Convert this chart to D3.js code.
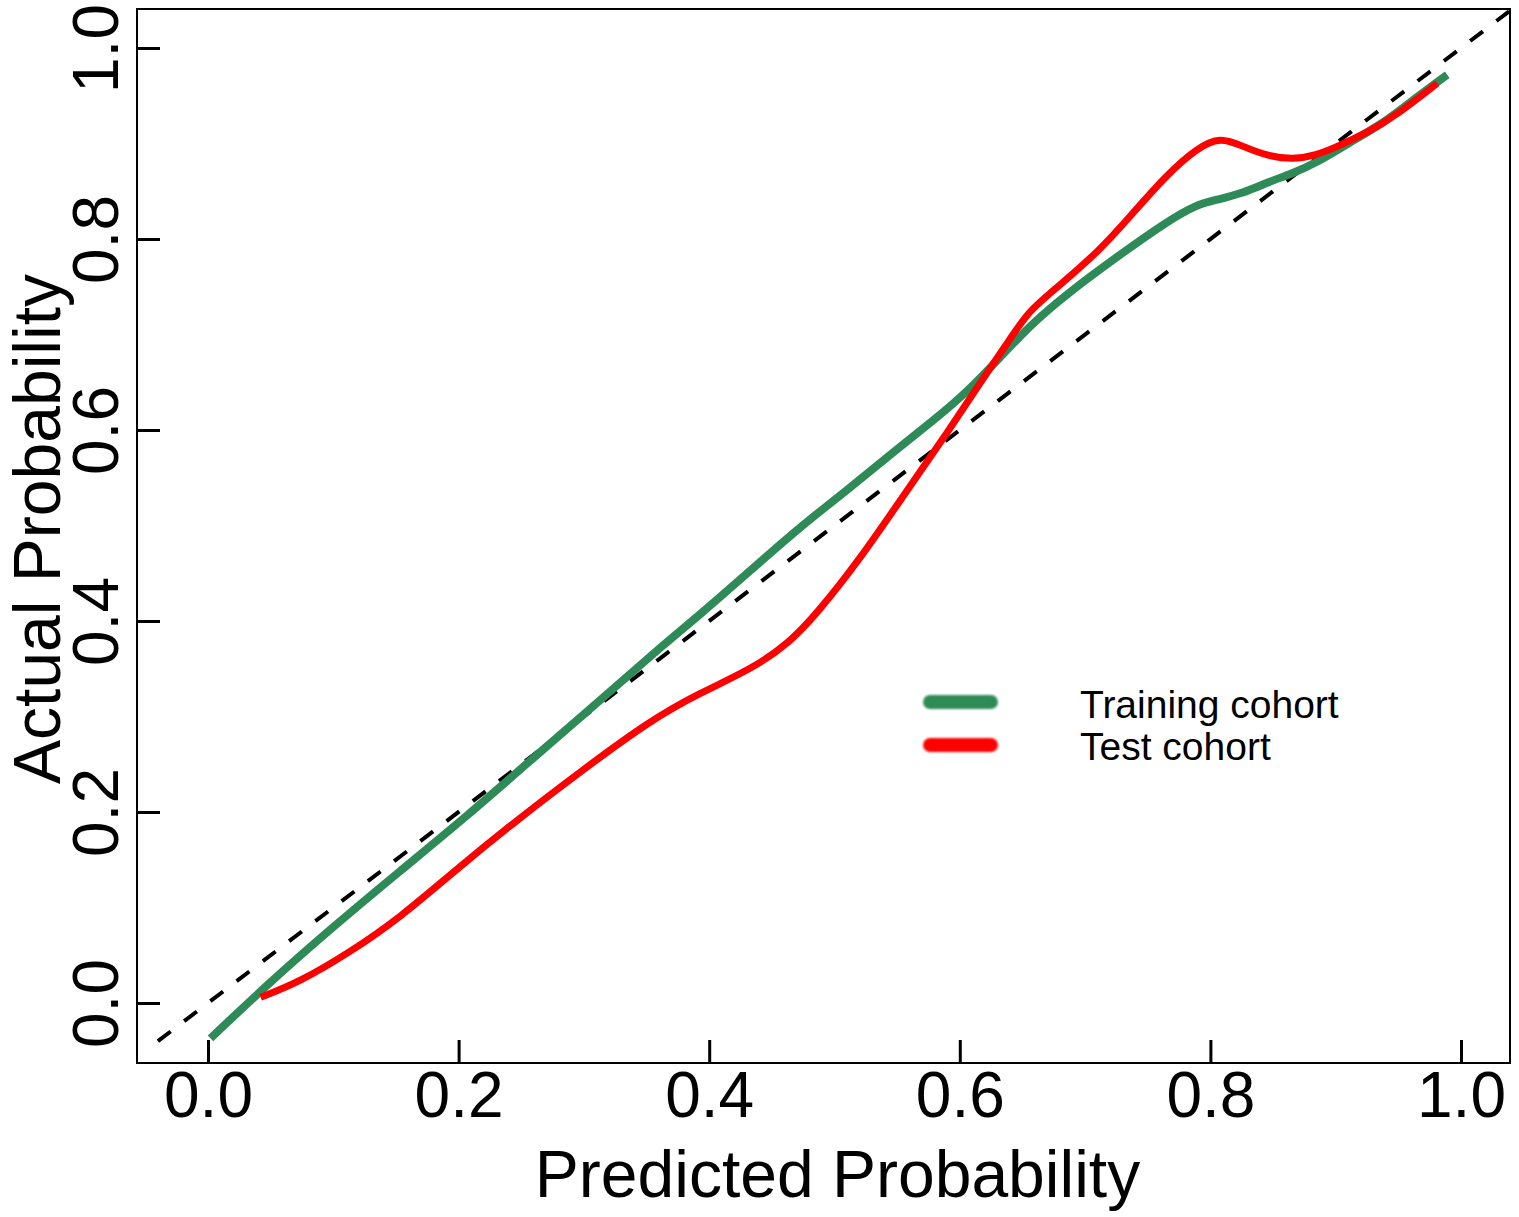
<!DOCTYPE html>
<html>
<head>
<meta charset="utf-8">
<script src="https://cdn.jsdelivr.net/npm/d3@7"></script>
<style>
  html, body { margin: 0; padding: 0; background: #fff; }
  svg { display: block; }
  text { font-family: "Liberation Sans", Arial, Helvetica, sans-serif; fill: #000; }
</style>
</head>
<body>
<svg id="chart" width="1519" height="1217"></svg>
<script>
// ---- data ----
const xTicks = [0.0, 0.2, 0.4, 0.6, 0.8, 1.0];
const yTicks = [0.0, 0.2, 0.4, 0.6, 0.8, 1.0];
const tickLabels = ["0.0", "0.2", "0.4", "0.6", "0.8", "1.0"];
const seriesNames = ["Training cohort", "Test cohort"];
const seriesColors = ["#2e8b57", "#ff0000"];
const diagonal = [[-0.04, -0.04], [1.04, 1.04]];

const trainingPred = [0.002, 0.047, 0.100, 0.153, 0.207, 0.259, 0.313, 0.366, 0.393, 0.433, 0.472, 0.510, 0.547, 0.579, 0.606, 0.632, 0.658, 0.686, 0.725, 0.765, 0.789, 0.805, 0.826, 0.845, 0.866, 0.885, 0.911, 0.938, 0.965, 0.989];
const trainingActual = [-0.037, 0.019, 0.080, 0.138, 0.196, 0.256, 0.317, 0.378, 0.407, 0.453, 0.498, 0.537, 0.577, 0.610, 0.640, 0.676, 0.712, 0.743, 0.781, 0.818, 0.836, 0.841, 0.848, 0.859, 0.869, 0.880, 0.901, 0.921, 0.949, 0.972];

const testPred = [0.042, 0.073, 0.113, 0.153, 0.201, 0.247, 0.299, 0.353, 0.393, 0.433, 0.464, 0.486, 0.520, 0.558, 0.590, 0.619, 0.638, 0.654, 0.672, 0.712, 0.738, 0.765, 0.789, 0.808, 0.826, 0.845, 0.866, 0.885, 0.898, 0.925, 0.951, 0.981];
const testActual = [0.006, 0.022, 0.053, 0.089, 0.143, 0.192, 0.244, 0.296, 0.325, 0.349, 0.377, 0.408, 0.464, 0.537, 0.597, 0.655, 0.691, 0.723, 0.743, 0.788, 0.827, 0.867, 0.895, 0.907, 0.897, 0.887, 0.883, 0.888, 0.895, 0.911, 0.932, 0.963];

// ---- layout ----
const svg = d3.select("#chart");
const box = { left: 137, top: 9, right: 1510, bottom: 1063 };
const x = d3.scaleLinear().domain([0, 1]).range([208, 1461]);
const y = d3.scaleLinear().domain([0, 1]).range([1003, 48]);

const defs = svg.append("defs");
defs.append("clipPath").attr("id", "plotclip")
  .append("rect")
  .attr("x", box.left).attr("y", box.top)
  .attr("width", box.right - box.left).attr("height", box.bottom - box.top);
defs.append("filter").attr("id", "soft")
  .attr("filterUnits", "userSpaceOnUse")
  .attr("x", 880).attr("y", 660).attr("width", 160).attr("height", 120)
  .append("feGaussianBlur").attr("stdDeviation", 1.2);

const plot = svg.append("g").attr("clip-path", "url(#plotclip)");

// diagonal reference line
plot.append("path")
  .datum(diagonal)
  .attr("d", d3.line().x(d => x(d[0])).y(d => y(d[1])))
  .attr("fill", "none")
  .attr("stroke", "#000")
  .attr("stroke-width", 4)
  .attr("stroke-dasharray", "16,17");

const line = d3.line()
  .x(d => x(d[0]))
  .y(d => y(d[1]))
  .curve(d3.curveBasis);

const training = trainingPred.map((p, i) => [p, trainingActual[i]]);
const test = testPred.map((p, i) => [p, testActual[i]]);

plot.append("path")
  .datum(training)
  .attr("d", line)
  .attr("fill", "none")
  .attr("stroke", seriesColors[0])
  .attr("stroke-width", 8)
  .attr("stroke-linejoin", "round");

plot.append("path")
  .datum(test)
  .attr("d", line)
  .attr("fill", "none")
  .attr("stroke", seriesColors[1])
  .attr("stroke-width", 7)
  .attr("stroke-linejoin", "round");

// frame
svg.append("rect")
  .attr("x", box.left).attr("y", box.top)
  .attr("width", box.right - box.left).attr("height", box.bottom - box.top)
  .attr("fill", "none").attr("stroke", "#000").attr("stroke-width", 2);

// x axis (ticks inward)
const xAxis = d3.axisBottom(x)
  .tickValues(xTicks)
  .tickSize(-23)
  .tickFormat((d, i) => tickLabels[i]);
const gx = svg.append("g").attr("transform", `translate(0,${box.bottom})`).call(xAxis);
gx.select(".domain").remove();
gx.selectAll(".tick line").attr("stroke", "#000").attr("stroke-width", 3);
gx.selectAll(".tick text")
  .attr("y", 54).attr("dy", 0)
  .style("font-family", '"Liberation Sans", Arial, sans-serif')
  .style("font-size", "64px")
  .attr("fill", "#000");

// y axis (ticks inward, rotated labels)
const yAxis = d3.axisLeft(y)
  .tickValues(yTicks)
  .tickSize(-23)
  .tickFormat((d, i) => tickLabels[i]);
const gy = svg.append("g").attr("transform", `translate(${box.left},0)`).call(yAxis);
gy.select(".domain").remove();
gy.selectAll(".tick line").attr("stroke", "#000").attr("stroke-width", 3);
gy.selectAll(".tick text")
  .attr("x", null).attr("dy", null)
  .attr("transform", "translate(-19,0) rotate(-90)")
  .attr("text-anchor", "middle")
  .style("font-family", '"Liberation Sans", Arial, sans-serif')
  .style("font-size", "64px")
  .attr("fill", "#000");

// axis titles
svg.append("text")
  .attr("x", x(0.5) + 3)
  .attr("y", 1197)
  .attr("text-anchor", "middle")
  .style("font-size", "66px")
  .text("Predicted Probability");

svg.append("text")
  .attr("transform", "translate(60,529) rotate(-90)")
  .attr("text-anchor", "middle")
  .style("font-size", "66px")
  .text("Actual Probability");

// legend
const legend = svg.append("g").attr("filter", "url(#soft)");
const legY = [702, 745];
const legTextY = [718, 760];
seriesNames.forEach((name, i) => {
  legend.append("rect")
    .attr("x", 923).attr("y", legY[i] - 7)
    .attr("width", 75).attr("height", 14)
    .attr("rx", 7)
    .attr("fill", seriesColors[i]);
});
seriesNames.forEach((name, i) => {
  svg.append("text")
    .attr("x", 1080).attr("y", legTextY[i])
    .style("font-size", "39px")
    .text(name);
});
</script>
</body>
</html>
